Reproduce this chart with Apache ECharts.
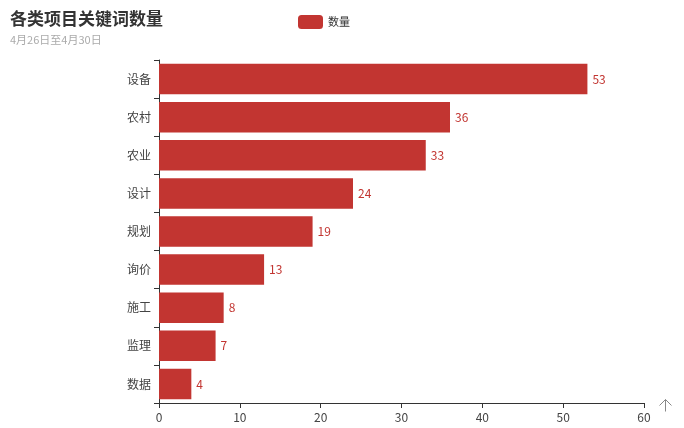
<!DOCTYPE html>
<html><head><meta charset="utf-8">
<script src="https://cdn.jsdelivr.net/npm/echarts@6/dist/echarts.min.js"></script>
<style>html,body{margin:0;padding:0;background:#fff}#c{width:684px;height:428px}</style>
</head><body><div id="c"></div>
<script>
const categories = ['数据','监理','施工','询价','规划','设计','农业','农村','设备'];
const counts = [4,7,8,13,19,24,33,36,53];
const xTicks = [0,10,20,30,40,50,60];
const font = '"Noto Sans CJK SC", "Noto Sans", sans-serif';
const chart = echarts.init(document.getElementById('c'));
chart.setOption({
  animation:false,
  textStyle:{fontFamily:font},
  title:{text:'各类项目关键词数量',subtext:'4月26日至4月30日',left:5,top:5,
    textStyle:{fontSize:17,fontWeight:'bold',color:'#333',fontFamily:font},
    subtextStyle:{fontSize:11,color:'#aaa',fontFamily:font},itemGap:7},
  legend:{data:['数量'],top:10,left:293,itemWidth:25,itemHeight:14,itemGap:5,
    textStyle:{fontSize:11,color:'#333',fontFamily:font}},
  grid:{left:159,right:40,top:60,bottom:25,containLabel:false},
  xAxis:{type:'value',min:xTicks[0],max:xTicks[xTicks.length-1],interval:10,
    splitLine:{show:false},
    axisLine:{show:true,lineStyle:{color:'#333'}},axisTick:{show:true},
    axisLabel:{color:'#444',fontSize:12,fontFamily:font}},
  yAxis:{type:'category',data:categories,
    axisLine:{lineStyle:{color:'#333'}},axisTick:{show:true},
    axisLabel:{color:'#444',fontSize:12,fontFamily:font}},
  series:[{name:'数量',type:'bar',data:counts,barCategoryGap:'20%',
    itemStyle:{color:'#c23531'},
    label:{show:true,position:'right',color:'#c23531',fontSize:12,fontFamily:font}}],
  graphic:[{type:'polyline',left:657,top:397,shape:{points:[[0,6],[6,0],[12,6]]},style:{stroke:'#888',lineWidth:1,fill:null}},
           {type:'line',left:663,top:397,shape:{x1:0,y1:0,x2:0,y2:12},style:{stroke:'#888',lineWidth:1}}]
});
</script></body></html>
